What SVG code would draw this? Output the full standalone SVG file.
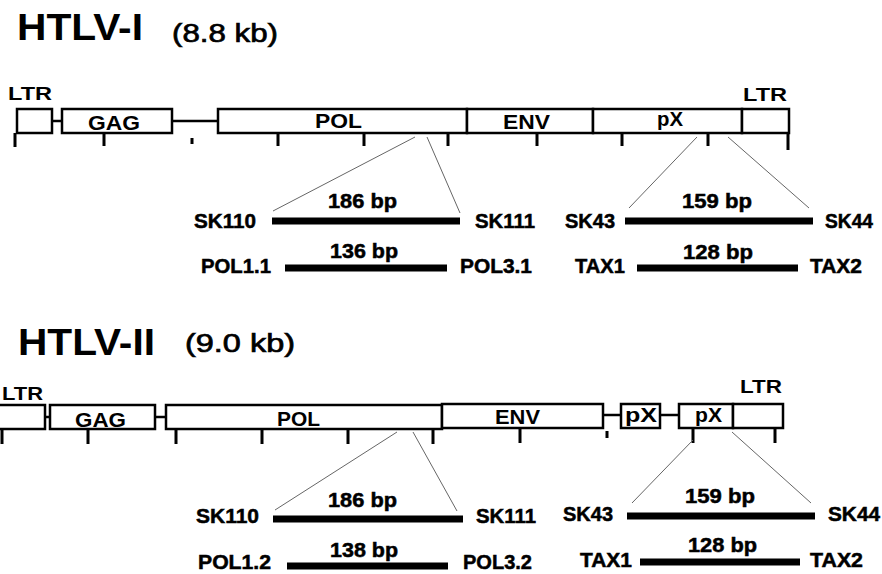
<svg xmlns="http://www.w3.org/2000/svg" width="882" height="574" viewBox="0 0 882 574">
<style>
text{font-family:"Liberation Sans",Arial,sans-serif;fill:#000}
.title{font-size:36px;font-weight:bold}
.size{font-size:26px;stroke:#000;stroke-width:0.7}
.ltr{font-size:19px;font-weight:bold}
.gene{font-size:21px;font-weight:bold}
.lab{font-size:20px;font-weight:bold;stroke:#000;stroke-width:0.5}
.box{fill:#fff;stroke:#000;stroke-width:2.5}
.link{stroke:#000;stroke-width:2.5}
.tick{stroke:#000;stroke-width:3}
.bar{stroke:#000;stroke-width:7}
.thin{stroke:#666;stroke-width:1;fill:none}
</style>

<g id="title-htlv1">
<text class="title" x="17" y="40" textLength="126" lengthAdjust="spacingAndGlyphs">HTLV-I</text>
<text class="size" x="172" y="42" textLength="106" lengthAdjust="spacingAndGlyphs">(8.8 kb)</text>
</g>

<g id="genome-htlv1">
<text class="ltr" x="8" y="100" textLength="44" lengthAdjust="spacingAndGlyphs">LTR</text>
<text class="ltr" x="743" y="101" textLength="44" lengthAdjust="spacingAndGlyphs">LTR</text>
<line class="link" x1="52" y1="121" x2="62" y2="121"/>
<line class="link" x1="172" y1="121" x2="218" y2="121"/>
<rect class="box" x="17" y="109" width="35" height="24"/>
<rect class="box" x="62" y="109" width="110" height="24"/>
<rect class="box" x="218" y="109" width="249" height="24"/>
<rect class="box" x="467" y="109" width="126" height="24"/>
<rect class="box" x="593" y="109" width="149" height="24"/>
<rect class="box" x="742" y="109" width="47" height="24"/>
<text class="gene" x="88" y="130" textLength="52" lengthAdjust="spacingAndGlyphs">GAG</text>
<text class="gene" x="315" y="128" textLength="47" lengthAdjust="spacingAndGlyphs">POL</text>
<text class="gene" x="503" y="129" textLength="47" lengthAdjust="spacingAndGlyphs">ENV</text>
<text class="gene" x="657" y="126" textLength="26" lengthAdjust="spacingAndGlyphs">pX</text>
<path class="tick" d="M15 133V147M104 133V146M278 133V146M364 133V146M448 133V146M537 133V146M622 133V146M708 133V146M788 133V150M192 138V144"/>
</g>

<g id="amplicons-htlv1">
<line class="bar" x1="272" y1="221" x2="460" y2="221"/>
<text class="lab" x="328" y="208" textLength="69" lengthAdjust="spacingAndGlyphs">186 bp</text>
<text class="lab" x="194" y="228" textLength="62" lengthAdjust="spacingAndGlyphs">SK110</text>
<text class="lab" x="475" y="228" textLength="60" lengthAdjust="spacingAndGlyphs">SK111</text>
<line class="bar" x1="285" y1="268" x2="447" y2="268"/>
<text class="lab" x="330" y="258" textLength="68" lengthAdjust="spacingAndGlyphs">136 bp</text>
<text class="lab" x="201" y="273" textLength="70" lengthAdjust="spacingAndGlyphs">POL1.1</text>
<text class="lab" x="460" y="273" textLength="72" lengthAdjust="spacingAndGlyphs">POL3.1</text>
<line class="bar" x1="625" y1="221" x2="813" y2="221"/>
<text class="lab" x="682" y="208" textLength="70" lengthAdjust="spacingAndGlyphs">159 bp</text>
<text class="lab" x="565" y="228" textLength="50" lengthAdjust="spacingAndGlyphs">SK43</text>
<text class="lab" x="825" y="228" textLength="48" lengthAdjust="spacingAndGlyphs">SK44</text>
<line class="bar" x1="637" y1="268" x2="798" y2="268"/>
<text class="lab" x="683" y="259" textLength="70" lengthAdjust="spacingAndGlyphs">128 bp</text>
<text class="lab" x="575" y="273" textLength="50" lengthAdjust="spacingAndGlyphs">TAX1</text>
<text class="lab" x="810" y="273" textLength="52" lengthAdjust="spacingAndGlyphs">TAX2</text>
</g>

<g id="title-htlv2">
<text class="title" x="18" y="355" font-size="35" textLength="137" lengthAdjust="spacingAndGlyphs">HTLV-II</text>
<text class="size" x="185" y="352" textLength="110" lengthAdjust="spacingAndGlyphs">(9.0 kb)</text>
</g>

<g id="genome-htlv2">
<text class="ltr" x="2" y="400" textLength="41" lengthAdjust="spacingAndGlyphs">LTR</text>
<text class="ltr" x="740" y="393" textLength="42" lengthAdjust="spacingAndGlyphs">LTR</text>
<line class="link" x1="45" y1="417" x2="50" y2="417"/>
<line class="link" x1="155" y1="417" x2="166" y2="417"/>
<line class="link" x1="603" y1="415" x2="621" y2="415"/>
<line class="link" x1="660" y1="415" x2="679" y2="415"/>
<rect class="box" x="-2" y="405" width="47" height="24"/>
<rect class="box" x="50" y="405" width="105" height="24"/>
<rect class="box" x="166" y="405" width="276" height="24"/>
<rect class="box" x="442" y="404" width="161" height="24"/>
<rect class="box" x="621" y="404" width="39" height="24"/>
<rect class="box" x="679" y="404" width="54" height="24"/>
<rect class="box" x="733" y="404" width="50" height="24"/>
<text class="gene" x="75" y="427" textLength="51" lengthAdjust="spacingAndGlyphs">GAG</text>
<text class="gene" x="277" y="426" textLength="43" lengthAdjust="spacingAndGlyphs">POL</text>
<text class="gene" x="495" y="424" textLength="45" lengthAdjust="spacingAndGlyphs">ENV</text>
<text class="gene" x="625" y="422" textLength="32" lengthAdjust="spacingAndGlyphs">pX</text>
<text class="gene" x="695" y="422" textLength="27" lengthAdjust="spacingAndGlyphs">pX</text>
<path class="tick" d="M2 429V444M88 429V444M176 429V444M262 429V444M348 429V444M433 429V444M520 428V443M693 428V443M775 428V443M607 431V438"/>
</g>

<g id="amplicons-htlv2">
<line class="bar" x1="273" y1="519" x2="463" y2="519"/>
<text class="lab" x="328" y="507" textLength="69" lengthAdjust="spacingAndGlyphs">186 bp</text>
<text class="lab" x="196" y="523" textLength="63" lengthAdjust="spacingAndGlyphs">SK110</text>
<text class="lab" x="476" y="523" textLength="60" lengthAdjust="spacingAndGlyphs">SK111</text>
<line class="bar" x1="287" y1="566" x2="448" y2="566"/>
<text class="lab" x="330" y="557" textLength="68" lengthAdjust="spacingAndGlyphs">138 bp</text>
<text class="lab" x="198" y="569" textLength="73" lengthAdjust="spacingAndGlyphs">POL1.2</text>
<text class="lab" x="463" y="569" textLength="69" lengthAdjust="spacingAndGlyphs">POL3.2</text>
<line class="bar" x1="627" y1="516" x2="815" y2="516"/>
<text class="lab" x="685" y="503" textLength="70" lengthAdjust="spacingAndGlyphs">159 bp</text>
<text class="lab" x="563" y="521" textLength="50" lengthAdjust="spacingAndGlyphs">SK43</text>
<text class="lab" x="828" y="521" textLength="52" lengthAdjust="spacingAndGlyphs">SK44</text>
<line class="bar" x1="640" y1="562" x2="800" y2="562"/>
<text class="lab" x="688" y="552" textLength="69" lengthAdjust="spacingAndGlyphs">128 bp</text>
<text class="lab" x="580" y="567" textLength="52" lengthAdjust="spacingAndGlyphs">TAX1</text>
<text class="lab" x="810" y="567" textLength="53" lengthAdjust="spacingAndGlyphs">TAX2</text>
</g>

<g id="connectors">
<line class="thin" x1="415" y1="137" x2="273" y2="211"/>
<line class="thin" x1="427" y1="137" x2="460" y2="213"/>
<line class="thin" x1="697" y1="137" x2="629" y2="208"/>
<line class="thin" x1="728" y1="137" x2="809" y2="208"/>
<line class="thin" x1="397" y1="432" x2="275" y2="510"/>
<line class="thin" x1="413" y1="432" x2="457" y2="511"/>
<line class="thin" x1="693" y1="440" x2="632" y2="503"/>
<line class="thin" x1="732" y1="432" x2="811" y2="503"/>
</g>
</svg>
